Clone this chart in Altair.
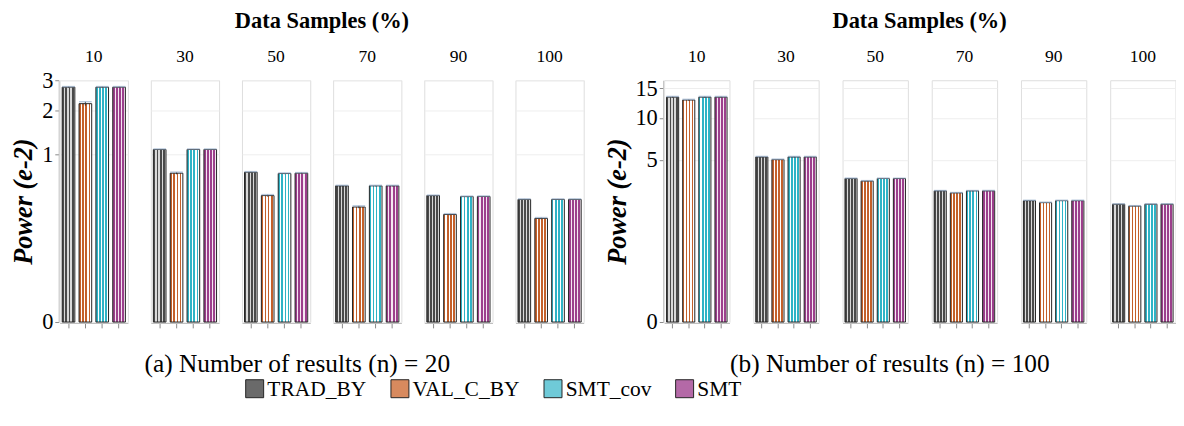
import altair as alt
import pandas as pd

samples = [10, 30, 50, 70, 90, 100]
series = ["TRAD_BY", "VAL_C_BY", "SMT_cov", "SMT"]

# (a) n = 20  (values in e-2)
n20_trad = [2.75, 1.09, 0.714, 0.536, 0.429, 0.391]
n20_valc = [2.21, 0.70, 0.429, 0.323, 0.264, 0.236]
n20_cov = [2.75, 1.09, 0.695, 0.536, 0.419, 0.391]
n20_smt = [2.75, 1.09, 0.700, 0.536, 0.420, 0.391]
n20_err_trad = [0.02, 0.01, 0.008, 0.006, 0.005, 0.005]
n20_err_valc = [0.06, 0.015, 0.01, 0.01, 0.006, 0.006]
n20_err_cov = [0.02, 0.01, 0.008, 0.006, 0.005, 0.005]
n20_err_smt = [0.02, 0.01, 0.008, 0.006, 0.005, 0.005]

# (b) n = 100 (values in e-2)
n100_trad = [13.36, 5.28, 3.47, 2.65, 2.10, 1.92]
n100_valc = [12.85, 5.03, 3.29, 2.53, 2.00, 1.83]
n100_cov = [13.36, 5.28, 3.47, 2.65, 2.10, 1.92]
n100_smt = [13.36, 5.28, 3.47, 2.65, 2.10, 1.92]
n100_err_trad = [0.12, 0.05, 0.03, 0.02, 0.02, 0.02]
n100_err_valc = [0.12, 0.05, 0.03, 0.02, 0.02, 0.02]
n100_err_cov = [0.12, 0.05, 0.03, 0.02, 0.02, 0.02]
n100_err_smt = [0.12, 0.05, 0.03, 0.02, 0.02, 0.02]

SERIF = "Liberation Serif"


def frame(vals, errs):
    rows = []
    for s, vs, es in zip(series, vals, errs):
        for smp, v, e in zip(samples, vs, es):
            rows.append({"samples": smp, "series": s, "value": v,
                         "lo": v - e, "hi": v + e})
    return pd.DataFrame(rows)


df20 = frame([n20_trad, n20_valc, n20_cov, n20_smt],
             [n20_err_trad, n20_err_valc, n20_err_cov, n20_err_smt])
df100 = frame([n100_trad, n100_valc, n100_cov, n100_smt],
              [n100_err_trad, n100_err_valc, n100_err_cov, n100_err_smt])


def stripes(c1, c2, n, frac):
    stops = []
    for i in range(n):
        a = i / n
        b = (i + frac) / n
        c = (i + 1) / n
        stops += [{"offset": a, "color": c1}, {"offset": b, "color": c1},
                  {"offset": b, "color": c2}, {"offset": c, "color": c2}]
    return {"gradient": "linear", "x1": 0, "y1": 0, "x2": 1, "y2": 0,
            "stops": stops}


grads = {
    "TRAD_BY": stripes("#4a4a4a", "#d8d8d8", 4, 0.62),
    "VAL_C_BY": stripes("#c4602a", "#ffffff", 4, 0.55),
    "SMT_cov": stripes("#2fb3c6", "#ffffff", 4, 0.55),
    "SMT": stripes("#9c3f8c", "#f4e6f1", 4, 0.65),
}
legend_colors = ["#6a6a6a", "#d88a5e", "#6fcad8", "#b469a7"]

fill_enc = alt.FillValue(
    value=grads["SMT"],
    condition=[{"test": f"datum.series === '{s}'", "value": grads[s]}
               for s in series[:3]],
)


def panel(df, domain_max, ticks, width, height, spacing, caption):
    base = alt.Chart(df)
    x = alt.X("series:N", sort=series,
              scale=alt.Scale(paddingInner=0.25, paddingOuter=0.15),
              axis=alt.Axis(labels=False, title=None, ticks=True, tickSize=5,
                            domainColor="#bbbbbb", tickColor="#888888"))
    yscale = alt.Scale(type="pow", exponent=1 / 3, domain=[0, domain_max],
                       nice=False)
    bars = base.mark_bar(stroke="#222222", strokeWidth=1).encode(
        x=x,
        y=alt.Y("value:Q", scale=yscale,
                axis=alt.Axis(values=ticks, format="d", title="Power (e-2)",
                              titleFont=SERIF, titleFontSize=27,
                              titleFontWeight="bold", titleFontStyle="italic",
                              titleColor="black", titlePadding=4,
                              labelFont=SERIF, labelFontSize=23,
                              labelColor="black", labelPadding=2,
                              tickSize=4, tickColor="#888888",
                              domainColor="#bbbbbb", gridColor="#eeeeee")),
        fill=fill_enc,
    )
    key = base.mark_square(size=0, filled=True).encode(
        x=alt.X("series:N", sort=series),
        y=alt.Y("value:Q"),
        color=alt.Color("series:N", sort=series,
                        scale=alt.Scale(domain=series, range=legend_colors),
                        legend=alt.Legend(
                            title=None, orient="none", direction="horizontal",
                            legendX=189, legendY=305,
                            symbolType="square", symbolSize=340,
                            symbolStrokeColor="#222222", symbolStrokeWidth=1,
                            symbolOpacity=1, labelFont=SERIF,
                            labelFontSize=22, labelColor="black",
                            labelOffset=2, columnPadding=22)),
    )
    err = base.mark_rule(color="#333333", strokeWidth=1).encode(
        x=alt.X("series:N", sort=series),
        y=alt.Y("lo:Q"),
        y2="hi:Q",
    )
    cap = base.mark_tick(color="#9db3cf", thickness=1.5, size=13).encode(
        x=alt.X("series:N", sort=series),
        y=alt.Y("hi:Q"),
    )
    layered = alt.layer(bars, err, cap, key).properties(width=width,
                                                         height=height)
    return layered.facet(
        column=alt.Column(
            "samples:O",
            title="Data Samples (%)",
            header=alt.Header(titleFont=SERIF, titleFontSize=23,
                              titleFontWeight="bold", titleColor="black",
                              titlePadding=6,
                              labelFont=SERIF, labelFontSize=18,
                              labelColor="black", labelPadding=14),
        ),
        spacing=spacing,
    ).properties(
        title=alt.TitleParams(caption, orient="bottom", font=SERIF,
                              fontSize=26, fontWeight="normal",
                              color="black", offset=18, anchor="middle"),
    )


left = panel(df20, 3, [0, 1, 2, 3], 70, 248, 21.5,
             "(a) Number of results (n) = 20")
right = panel(df100, 16.6, [0, 5, 10, 15], 67, 248, 22.5,
              "(b) Number of results (n) = 100")

chart = alt.hconcat(left, right, spacing=20).resolve_scale(
    color="shared"
).properties(
    padding={"left": 2, "top": -3, "right": 0, "bottom": 0},
).configure_view(
    stroke="#dddddd"
).configure_axis(
    gridColor="#eeeeee"
).configure_legend(
    labelFont=SERIF, labelFontSize=22, labelColor="black"
)

chart.save("out.html", embed_options={"renderer": "svg", "actions": False})
